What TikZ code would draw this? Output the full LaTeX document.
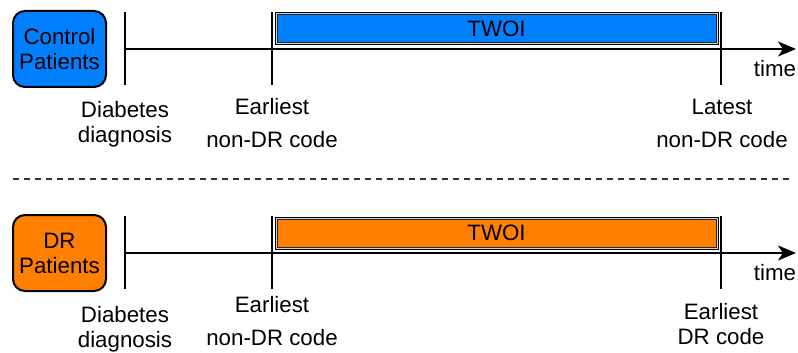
\documentclass[tikz,border=0pt]{standalone}
\usepackage{fontspec}
\setmainfont{Liberation Sans}
\usetikzlibrary{arrows.meta}
\definecolor{ctrlblue}{HTML}{007FFF}
\definecolor{drorange}{HTML}{FF8000}
\begin{document}
\begin{tikzpicture}[x=1pt,y=-1pt,
  txt/.style={font=\fontsize{22.3}{25}\selectfont},
  lbl/.style={txt, inner sep=0pt, align=center},
  patbox/.style={txt, draw=black, line width=2pt, rounded corners=12pt, minimum width=93pt, minimum height=76pt, inner sep=0pt, align=center},
  tickline/.style={line width=2pt},
  axisline/.style={line width=2pt, -{Stealth[length=18pt,width=15pt,inset=5pt]}},
  barouter/.style={draw=black, line width=1pt, fill=gray!35, minimum width=443pt, minimum height=32pt, inner sep=0pt},
  barinner/.style={txt, draw=black!85, line width=1pt, minimum width=439pt, minimum height=28pt, inner sep=0pt},
  sep/.style={line width=1.5pt, black!80, dash pattern=on 6pt off 5pt},
]
\useasboundingbox (0,0) rectangle (798,353);

% ---------- Control patients ----------
\node[patbox, fill=ctrlblue] (ctrl) at (59.5,49) {Control\\Patients};
\coordinate (cA) at (125,49);
\coordinate (cEnd) at (796,49);
\draw[axisline] (cA) -- (cEnd);
\coordinate (c1t) at (125,12); \coordinate (c1b) at (125,85);
\coordinate (c2t) at (272,12); \coordinate (c2b) at (272,85);
\coordinate (c3t) at (721,12); \coordinate (c3b) at (721,85);
\draw[tickline] (c1t) -- (c1b);
\draw[tickline] (c2t) -- (c2b);
\draw[tickline] (c3t) -- (c3b);
\node[barouter] (cbarO) at (496.5,29) {};
\node[barinner, fill=ctrlblue] (cbar) at (496.5,29) {TWOI};
\node[lbl] (ctime) at (775,69) {time};
\node[lbl] (cdiab) at (125,124.5) {Diabetes\\diagnosis};
\node[lbl] (cearl) at (272,123.5) {Earliest\\[8pt]non-DR code};
\node[lbl] (clate) at (722,123.5) {Latest\\[8pt]non-DR code};

% ---------- separator ----------
\coordinate (sL) at (13,179);
\coordinate (sR) at (790,179);
\draw[sep] (sL) -- (sR);

% ---------- DR patients ----------
\node[patbox, fill=drorange] (dr) at (59.5,253) {DR\\Patients};
\coordinate (dA) at (125,253);
\coordinate (dEnd) at (796,253);
\draw[axisline] (dA) -- (dEnd);
\coordinate (d1t) at (125,216); \coordinate (d1b) at (125,289);
\coordinate (d2t) at (272,216); \coordinate (d2b) at (272,289);
\coordinate (d3t) at (721,216); \coordinate (d3b) at (721,289);
\draw[tickline] (d1t) -- (d1b);
\draw[tickline] (d2t) -- (d2b);
\draw[tickline] (d3t) -- (d3b);
\node[barouter] (dbarO) at (496.5,233) {};
\node[barinner, fill=drorange] (dbar) at (496.5,233) {TWOI};
\node[lbl] (dtime) at (775,273) {time};
\node[lbl] (ddiab) at (125,329.5) {Diabetes\\diagnosis};
\node[lbl] (dearl) at (272,321) {Earliest\\[8pt]non-DR code};
\node[lbl] (dlate) at (721,324) {Earliest\\DR code};
\end{tikzpicture}
\end{document}
